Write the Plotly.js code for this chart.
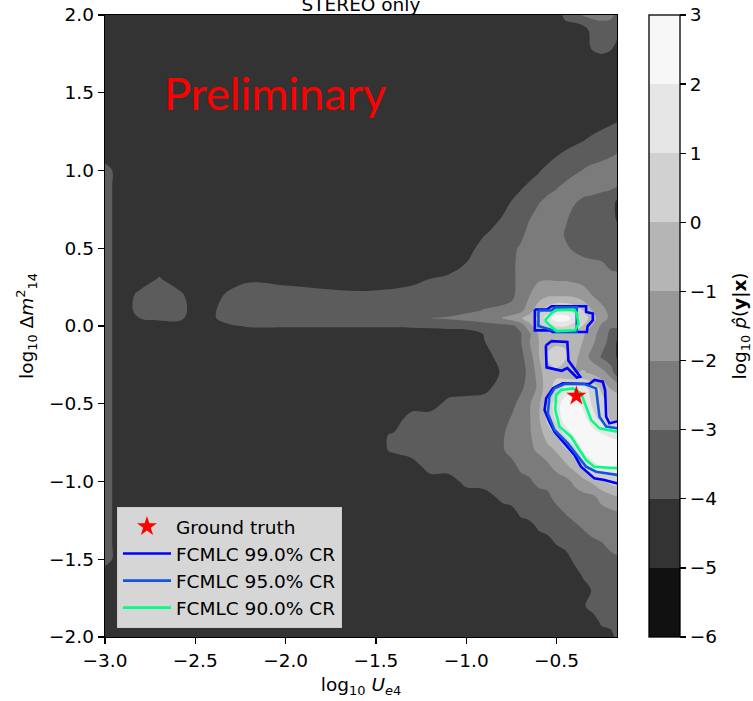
<!DOCTYPE html>
<html><head><meta charset="utf-8">
<script src="https://cdn.plot.ly/plotly-3.0.1.min.js"></script>
<style>html,body{margin:0;padding:0;background:#fff}</style>
</head><body><div id="chart" style="width:753px;height:701px"></div>
<script>
const D = -4.5;
// log10 U_e4 grid
const xGrid = [-3.0,-2.95,-2.9,-2.8,-2.7,-2.6,-2.5,-2.4,-2.3,-2.2,-2.0,-1.8,-1.6,-1.4,-1.3,-1.2,-1.1,-1.0,-0.9,-0.8,-0.75,-0.7,-0.65,-0.6,-0.55,-0.5,-0.45,-0.4,-0.35,-0.3,-0.25,-0.2,-0.165];
// log10 dm2_14 grid
const yGrid = [-2.0,-1.9,-1.8,-1.7,-1.6,-1.5,-1.4,-1.3,-1.2,-1.1,-1.0,-0.9,-0.8,-0.7,-0.6,-0.5,-0.4,-0.3,-0.2,-0.1,-0.05,0.0,0.05,0.1,0.2,0.3,0.4,0.5,0.6,0.7,0.8,0.9,1.0,1.1,1.2,1.3,1.4,1.5,1.6,1.7,1.8,1.9,2.0];
// log10 p(y|x)
const zGrid = [
/*-2.0*/[D,D,D,D,D,D,D,D,D,D, D,D,D,D,D,D,D,D,D,D, D,D,D,D,D,D,D,D,D,D, D,D,-3.6],
/*-1.9*/[D,D,D,D,D,D,D,D,D,D, D,D,D,D,D,D,D,D,D,D, D,D,D,D,D,D,D,D,D,D, -3.8,-3.5,-3.4],
/*-1.8*/[D,D,D,D,D,D,D,D,D,D, D,D,D,D,D,D,D,D,D,D, D,D,D,D,D,D,D,D,-4.1,-3.6, -3.5,-3.5,-3.5],
/*-1.7*/[D,D,D,D,D,D,D,D,D,D, D,D,D,D,D,D,D,D,D,D, D,D,D,D,D,D,D,D,D,-3.9, -3.5,-3.5,-3.4],
/*-1.6*/[D,D,D,D,D,D,D,D,D,D, D,D,D,D,D,D,D,D,D,D, D,D,D,D,D,D,D,D,-3.8,-3.5, -3.5,-3.4,-3.3],
/*-1.5*/[-3.6,-4.1,D,D,D,D,D,D,D,D, D,D,D,D,D,D,D,D,D,D, D,D,D,D,D,D,D,-3.7,-3.5,-3.4, -3.3,-3.2,-3.1],
/*-1.4*/[-3.6,-4.1,D,D,D,D,D,D,D,D, D,D,D,D,D,D,D,D,D,D, D,D,D,D,D,-3.95,-3.6,-3.5,-3.4,-3.2, -3.05,-2.8,-2.7],
/*-1.3*/[-3.6,-4.1,D,D,D,D,D,D,D,D, D,D,D,D,D,D,D,D,D,D, D,D,D,-3.9,-3.6,-3.5,-3.4,-3.2,-2.95,-2.7, -2.6,-2.5,-2.4],
/*-1.2*/[-3.6,-4.1,D,D,D,D,D,D,D,D, D,D,D,D,D,D,D,D,D,D, -4.4,-3.8,-3.5,-3.4,-3.35,-3.3,-2.95,-2.7,-2.5,-2.4, -2.3,-2.2,-2.1],
/*-1.1*/[-3.6,-4.1,D,D,D,D,D,D,D,D, D,D,D,D,D,D,D,D,D,-3.7, -3.5,-3.5,-3.4,-3.3,-3.2,-2.7,-2.5,-2.4,-2.3,-2.2, -1.7,-1.3,-1.05],
/*-1.0*/[-3.6,-4.1,D,D,D,D,D,D,D,D, D,D,D,D,D,D,D,-3.7,-3.5,-3.5, -3.4,-3.3,-3.1,-2.8,-2.7,-2.6,-2.3,-1.8,-1.3,-0.8, -0.1,0.3,0.5],
/*-0.9*/[-3.6,-4.1,D,D,D,D,D,D,D,D, D,D,D,D,D,-3.5,-3.5,-3.5,-3.5,-3.4, -3.3,-2.8,-2.75,-2.7,-2.2,-1.6,-1.2,-0.6,0.2,1.6, 2.1,2.1,1.9],
/*-0.8*/[-3.6,-4.1,D,D,D,D,D,D,D,D, D,D,D,-3.9,-3.5,-3.5,-3.5,-3.5,-3.5,-3.1, -2.7,-2.5,-2.3,-1.8,-1.4,-0.9,-0.2,0.6,2.2,2.8, 2.8,2.8,2.7],
/*-0.7*/[-3.6,-4.1,D,D,D,D,D,D,D,D, D,D,D,-3.9,-3.5,-3.5,-3.5,-3.5,-3.5,-3.1, -2.7,-2.4,-2.1,-1.6,-0.5,0.1,1.2,2.2,2.7,2.6, 2.1,1.8,1.7],
/*-0.6*/[-3.6,-4.1,D,D,D,D,D,D,D,D, D,D,D,D,-3.5,-3.5,-3.5,-3.5,-3.5,-3.4, -2.9,-2.5,-2.1,-1.2,0.2,1.2,2.6,2.8,2.4,1.3, 0.8,-0.1,-0.2],
/*-0.5*/[-3.6,-4.1,D,D,D,D,D,D,D,D, D,D,D,D,D,D,-3.7,-3.5,-3.5,-3.4, -3.3,-2.7,-2.1,-1.3,0.3,1.5,2.6,2.7,1.6,0.9, 0.4,-0.3,-0.6],
/*-0.4*/[-3.6,-4.1,D,D,D,D,D,D,D,D, D,D,D,D,D,D,D,D,-4.3,-3.5, -3.5,-3.2,-2.6,-1.8,-0.2,0.3,1.3,1.3,1.3,0.6, -0.2,-1.05,-1.2],
/*-0.3*/[-3.6,-4.1,D,D,D,D,D,D,D,D, D,D,D,D,D,D,D,D,D,-3.9, -3.5,-3.3,-2.8,-1.5,-0.3,-0.2,-0.9,-1.05,-0.9,-1.2, -1.6,-2.4,-3.6],
/*-0.2*/[-3.6,-4.1,D,D,D,D,D,D,D,D, D,D,D,D,D,D,D,D,D,-3.5, -3.4,-3.3,-2.5,-1.1,0.1,0.5,0.2,-0.7,-1.5,-2.4, -3.1,-3.6,-4.05],
/*-0.1*/[-3.6,-4.1,D,D,D,D,D,D,D,D, D,D,D,D,D,D,D,D,-4.02,-3.5, -3.4,-3.1,-2.05,-1.05,-0.2,-0.2,-0.2,-0.6,-1.05,-1.8, -2.6,-3.3,-4.05],
/*-0.05*/[-3.6,-4.1,D,D,D,D,D,D,D,D, D,D,D,D,D,D,D,D,-3.95,-3.5, -3.4,-3.1,-2.2,-0.95,-0.5,-0.5,-0.5,-0.5,-0.9,-1.6, -2.5,-3.2,-3.5],
/*0.0*/[-3.6,-4.1,D,D,D,D,D,-4.3,-4.1,-3.9, -3.9,-3.9,-3.9,-3.9,-3.85,-3.8,-3.7,-3.6,-3.4,-3.3, -3.2,-2.7,-1.3,-0.3,0.6,1.1,1.1,0.6,-0.1,-1.1, -2.2,-2.9,-2.8],
/*0.05*/[-3.6,-4.1,D,-3.95,-3.8,-3.7,D,-4.1,-3.5,-3.5, -3.5,-3.5,-3.5,-3.5,-3.5,-2.98,-2.9,-2.7,-2.5,-1.95, -1.6,-1.1,-0.6,0.3,1.5,2.6,2.6,1.5,0.6,-0.6, -1.6,-2.2,-2.3],
/*0.1*/[-3.6,-4.1,D,-3.6,-3.5,-3.4,D,-4.1,-3.5,-3.5, -3.5,-3.5,-3.5,-3.5,-3.5,-3.5,-3.4,-3.2,-2.95,-2.8, -2.6,-2.3,-1.4,-0.4,0.5,1.1,1.1,0.7,-0.05,-1.05, -1.8,-2.2,-2.2],
/*0.2*/[-3.6,-4.1,D,-3.7,-3.5,-3.7,D,-4.4,-3.7,-3.5, -3.5,-3.667,-3.833,-3.667,-3.5,-3.5,-3.5,-3.5,-3.5,-3.4, -3.3,-2.5,-2.05,-1.5,-1.2,-1.2,-1.2,-1.3,-1.6,-2.05, -2.3,-2.4,-2.3],
/*0.3*/[-3.6,-4.1,D,D,-3.9,D,D,D,D,-4.125, -4.33,D,D,D,-4.33,-3.97,-3.786,-3.5,-3.5,-3.5, -3.4,-2.5,-2.3,-2.1,-2.05,-2.1,-2.1,-2.2,-2.3,-2.5, -2.6,-2.7,-2.6],
/*0.4*/[-3.6,-4.1,D,D,D,D,D,D,D,D, D,D,D,D,D,D,D,-3.97,-3.5,-3.5, -3.4,-2.5,-2.5,-2.5,-2.5,-2.5,-2.6,-2.7,-2.6,-2.8, -2.9,-3.2,-3.4],
/*0.5*/[-3.6,-4.1,D,D,D,D,D,D,D,D, D,D,D,D,D,D,D,D,-3.5,-3.5, -3.4,-2.8,-2.5,-2.5,-2.5,-2.5,-2.9,-3.1,-3.5,-3.5, -3.5,-3.5,-3.6],
/*0.6*/[-3.6,-4.1,D,D,D,D,D,D,D,D, D,D,D,D,D,D,D,D,-4.125,-3.5, -3.5,-3.5,-2.5,-2.5,-2.5,-2.6,-3.1,-3.5,-3.5,-3.5, -3.5,-3.6,-3.8],
/*0.7*/[-3.6,-4.1,D,D,D,D,D,D,D,D, D,D,D,D,D,D,D,D,D,-3.97, -3.5,-3.5,-3.125,-2.5,-2.5,-2.6,-2.8,-3.4,-3.5,-3.5, -3.5,-3.7,-4.1],
/*0.8*/[-3.6,-4.1,D,D,D,D,D,D,D,D, D,D,D,D,D,D,D,D,D,D, -3.97,-3.5,-3.5,-3.125,-2.67,-2.5,-2.6,-2.9,-3.2,-3.5, -3.5,-3.7,-4.1],
/*0.9*/[-3.6,-4.1,D,D,D,D,D,D,D,D, D,D,D,D,D,D,D,D,D,D, D,-4.21,-3.786,-3.5,-3.5,-3.125,-2.786,-2.5,-2.5,-2.3, -2.667,-2.76,-2.95],
/*1.0*/[-3.6,-4.1,D,D,D,D,D,D,D,D, D,D,D,D,D,D,D,D,D,D, D,D,D,-4.125,-3.667,-3.5,-3.5,-3.21,-2.944,-2.667, -2.5,-2.5,-2.5],
/*1.1*/[D,D,D,D,D,D,D,D,D,D, D,D,D,D,D,D,D,D,D,D, D,D,D,D,D,-4.06,-3.786,-3.5,-3.5,-3.5, -3.333,-3.09,-2.95],
/*1.2*/[D,D,D,D,D,D,D,D,D,D, D,D,D,D,D,D,D,D,D,D, D,D,D,D,D,D,D,-4.33,-4.06,-3.786, -3.5,-3.5,-3.5],
/*1.3*/[D,D,D,D,D,D,D,D,D,D, D,D,D,D,D,D,D,D,D,D, D,D,D,D,D,D,D,D,D,D, -4.33,-4.06,-3.944],
/*1.4*/[D,D,D,D,D,D,D,D,D,D, D,D,D,D,D,D,D,D,D,D, D,D,D,D,D,D,D,D,D,D, D,D,D],
/*1.5*/[D,D,D,D,D,D,D,D,D,D, D,D,D,D,D,D,D,D,D,D, D,D,D,D,D,D,D,D,D,D, D,D,D],
/*1.6*/[D,D,D,D,D,D,D,D,D,D, D,D,D,D,D,D,D,D,D,D, D,D,D,D,D,D,D,D,D,D, D,D,D],
/*1.7*/[D,D,D,D,D,D,D,D,D,D, D,D,D,D,D,D,D,D,D,D, D,D,D,D,D,D,D,D,D,D, D,D,D],
/*1.8*/[D,D,D,D,D,D,D,D,D,D, D,D,D,D,D,D,D,D,D,D, D,D,D,D,D,D,D,D,D,-3.8, -3.5,-3.8,-4.2],
/*1.9*/[D,D,D,D,D,D,D,D,D,D, D,D,D,D,D,D,D,D,D,D, D,D,D,D,D,D,D,D,D,-3.6, -3.5,-3.5,-3.7],
/*2.0*/[D,D,D,D,D,D,D,D,D,D, D,D,D,D,D,D,D,D,D,D, D,D,D,D,D,D,-3.7,-3.5,-2.9,-2.8, -2.7,-2.8,-3.2]
];
const levelStart = -6, levelEnd = 3, levelSize = 1;
// colour of each band: below -6, then [-6,-5] ... [2,3]
const bandColors = ['#000000','#111111','#333333','#5c5c5c','#7b7b7b','#989898','#b5b5b5','#d1d1d1','#e6e6e6','#f7f7f7'];
const cbTicks = [-6,-5,-4,-3,-2,-1,0,1,2,3];
const xTicks = [-3.0,-2.5,-2.0,-1.5,-1.0,-0.5];
const yTicks = [-2.0,-1.5,-1.0,-0.5,0.0,0.5,1.0,1.5,2.0];

// credible-region outlines
const cr99X = [-0.620,-0.554,-0.527,-0.336,-0.336,-0.299,-0.299,-0.328,-0.332,-0.521,-0.536,-0.620,-0.620, null,
  -0.559,-0.527,-0.440,-0.434,-0.369,-0.388,-0.440,-0.471,-0.555,-0.559, null,
  -0.160,-0.170,-0.207,-0.225,-0.231,-0.244,-0.290,-0.318,-0.465,-0.520,-0.557,-0.566,-0.539,-0.511,-0.456,-0.400,-0.364,-0.318,-0.290,-0.235,-0.170,-0.160];
const cr99Y = [0.106,0.106,0.127,0.127,0.090,0.080,0.037,-0.002,-0.039,-0.039,-0.028,-0.028,0.106, null,
  -0.125,-0.097,-0.103,-0.222,-0.326,-0.331,-0.270,-0.288,-0.266,-0.125, null,
  -0.613,-0.615,-0.626,-0.583,-0.412,-0.358,-0.347,-0.373,-0.369,-0.401,-0.465,-0.540,-0.615,-0.680,-0.755,-0.830,-0.905,-0.948,-0.980,-0.990,-1.012,-1.013];
const cr95X = [-0.600,-0.530,-0.505,-0.388,-0.388,-0.500,-0.545,-0.600,-0.600, null,
  -0.160,-0.225,-0.262,-0.281,-0.345,-0.456,-0.511,-0.539,-0.548,-0.511,-0.437,-0.382,-0.336,-0.281,-0.160];
const cr95Y = [0.100,0.100,0.120,0.120,-0.036,-0.036,-0.020,0.000,0.100, null,
  -0.658,-0.647,-0.583,-0.401,-0.373,-0.373,-0.401,-0.454,-0.562,-0.669,-0.755,-0.840,-0.905,-0.937,-0.958];
const cr90X = [-0.564,-0.527,-0.499,-0.406,-0.388,-0.378,-0.397,-0.499,-0.527,-0.564, null,
  -0.160,-0.262,-0.308,-0.345,-0.364,-0.410,-0.474,-0.502,-0.507,-0.483,-0.419,-0.373,-0.336,-0.290,-0.160];
const cr90Y = [0.036,0.084,0.101,0.105,0.084,0.015,-0.028,-0.033,-0.007,0.036, null,
  -0.680,-0.658,-0.605,-0.497,-0.433,-0.401,-0.412,-0.444,-0.540,-0.647,-0.712,-0.797,-0.862,-0.905,-0.915];
const truthX = [-0.39], truthY = [-0.45];

// stepped scale for the contour fill (band midpoints sit at 0.1, 0.2, ... 0.9)
const fillScale = [];
bandColors.forEach((c, i) => {
  fillScale.push([Math.max(0, (i - 0.5) / 10), c]);
  fillScale.push([Math.min(1, (i + 0.5) / 10), c]);
});
fillScale.push([1, bandColors[bandColors.length - 1]]);
// stepped scale for the colour bar, spanning exactly levelStart..levelEnd
const nb = (levelEnd - levelStart) / levelSize;
const barScale = [];
for (let k = 0; k < nb; k++) {
  barScale.push([k / nb, bandColors[k + 1]]);
  barScale.push([(k + 1) / nb, bandColors[k + 1]]);
}

const FS = 18.5;
const data = [
  {type:'contour', x:xGrid, y:yGrid, z:zGrid, autocontour:false,
   contours:{start:levelStart, end:levelEnd, size:levelSize, coloring:'fill', showlines:false},
   line:{width:0, smoothing:1}, colorscale:fillScale, showscale:false, showlegend:false, hoverinfo:'skip'},
  {type:'heatmap', x:[0, 1], y:[0], z:[[levelStart, levelEnd]], xaxis:'x2', yaxis:'y2',
   zmin:levelStart, zmax:levelEnd, colorscale:barScale, showlegend:false, hoverinfo:'skip',
   colorbar:{x:1.0625, xanchor:'left', y:0.5, yanchor:'middle', len:1, lenmode:'fraction',
     thickness:31, thicknessmode:'pixels', xpad:0, ypad:0, outlinewidth:1.3, outlinecolor:'#000',
     ticks:'outside', ticklen:6, tickwidth:1.3, tickcolor:'#000', tickmode:'array', tickvals:cbTicks,
     tickfont:{size:FS, color:'#000'}}},
  {type:'scatter', mode:'lines', x:cr99X, y:cr99Y, name:'FCMLC 99.0% CR', legendrank:2,
   line:{color:'#0000ff', width:2.6}, hoverinfo:'skip'},
  {type:'scatter', mode:'lines', x:cr95X, y:cr95Y, name:'FCMLC 95.0% CR', legendrank:3,
   line:{color:'#1155dd', width:2.6}, hoverinfo:'skip'},
  {type:'scatter', mode:'lines', x:cr90X, y:cr90Y, name:'FCMLC 90.0% CR', legendrank:4,
   line:{color:'#00ff80', width:2.6}, hoverinfo:'skip'},
  {type:'scatter', mode:'markers', x:truthX, y:truthY, name:'Ground truth', legendrank:1,
   marker:{symbol:'star', size:15, color:'#ff0000', line:{width:0}}, hoverinfo:'skip'}
];
const axisCommon = {showgrid:false, zeroline:false, showline:true, mirror:true, linecolor:'#000', linewidth:1.3,
  ticks:'outside', ticklen:6, tickwidth:1.3, tickcolor:'#000', tickfont:{size:FS, color:'#000'}, tickformat:'.1f'};
const layout = {
  width:753, height:701,
  margin:{l:105, r:135.5, t:15, b:64, pad:0},
  paper_bgcolor:'#ffffff', plot_bgcolor:'#333333',
  font:{family:'DejaVu Sans', size:FS, color:'#000'},
  title:{text:'STEREO only', font:{size:FS, color:'#000'}, xref:'paper', x:0.5, xanchor:'center',
         yref:'container', y:0.984, yanchor:'bottom'},
  xaxis:Object.assign({}, axisCommon, {range:[-3, -0.165], tickmode:'array', tickvals:xTicks,
         title:{text:'log<sub>10</sub> <i>U</i><sub><i>e</i>4</sub>', standoff:8, font:{size:FS}}}),
  yaxis:Object.assign({}, axisCommon, {range:[-2, 2], tickmode:'array', tickvals:yTicks,
         title:{text:'log<sub>10</sub> Δ<i>m</i><sup>2</sup><sub>14</sub>', standoff:10, font:{size:FS}}}),
  xaxis2:{domain:[0, 0.01], range:[10, 11], visible:false, anchor:'y2'},
  yaxis2:{domain:[0, 0.01], range:[10, 11], visible:false, anchor:'x2'},
  legend:{x:0.0234, y:0.0145, xanchor:'left', yanchor:'bottom', bgcolor:'rgba(255,255,255,0.8)',
          bordercolor:'#cccccc', borderwidth:1, font:{size:FS, color:'#000'}, itemwidth:48, traceorder:'normal'},
  annotations:[
    {x:-2.685, y:1.5, xref:'x', yref:'y', text:'Preliminary', showarrow:false, xanchor:'left',
     yanchor:'middle', font:{family:'Lato', size:45, color:'#ff0000'}},
    {x:1.243, y:0.5, xref:'paper', yref:'paper', text:'log<sub>10</sub> <i>p\u0302</i>(<b>y</b>|<b>x</b>)',
     textangle:-90, showarrow:false, xanchor:'center', yanchor:'middle', font:{size:FS, color:'#000'}}
  ],
  showlegend:true
};
Plotly.newPlot('chart', data, layout, {staticPlot:true, displayModeBar:false});
</script></body></html>
